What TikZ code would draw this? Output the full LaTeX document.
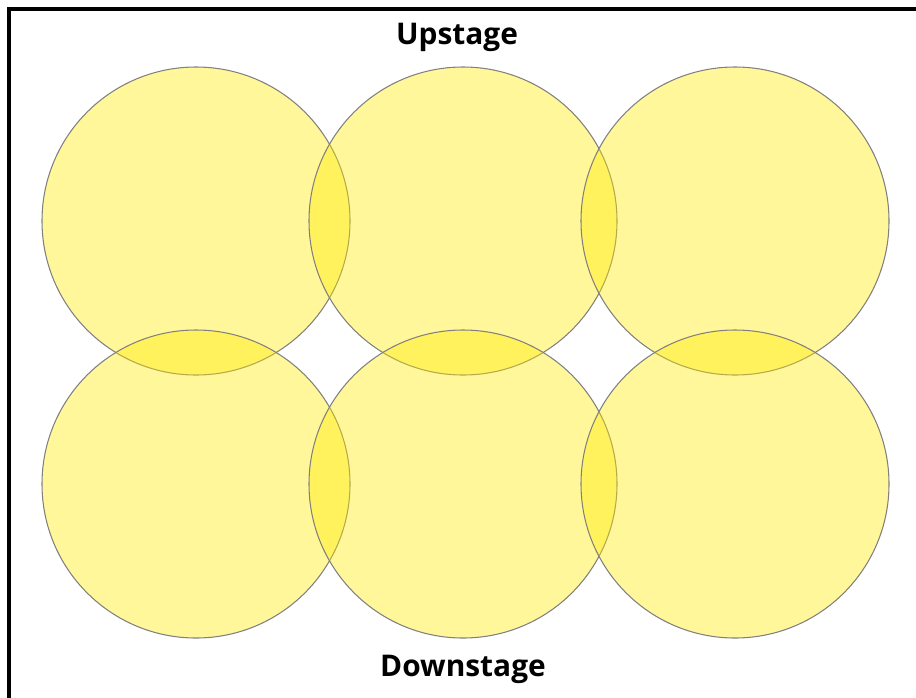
\documentclass[tikz,border=0pt]{standalone}
\usepackage{fontspec}
\setmainfont{Open Sans}
\usepackage{tikz}

\definecolor{lampyellow}{RGB}{255,235,0}
\tikzset{
  pool/.style={draw=black!50, line width=0.6pt, fill=lampyellow, fill opacity=0.4},
  stagelabel/.style={font=\fontsize{17}{20}\selectfont\bfseries, inner sep=0pt}
}

\begin{document}
\begin{tikzpicture}[x=0.02cm, y=-0.02cm]
        \useasboundingbox (0, 0) rectangle (916, 697);
        \draw[line width=2.2pt] (9, 720) -- (9, 9) -- (940, 9);
        \draw[pool] (196, 221) circle (154);
        \draw[pool] (463, 221) circle (154);
        \draw[pool] (735, 221) circle (154);
        \draw[pool] (196, 484) circle (154);
        \draw[pool] (463, 484) circle (154);
        \draw[pool] (735, 484) circle (154);
        \node[stagelabel] (up) at (457, 37) {Upstage};
        \node[stagelabel] (down) at (463, 669) {Downstage};
      \end{tikzpicture}
\end{document}
